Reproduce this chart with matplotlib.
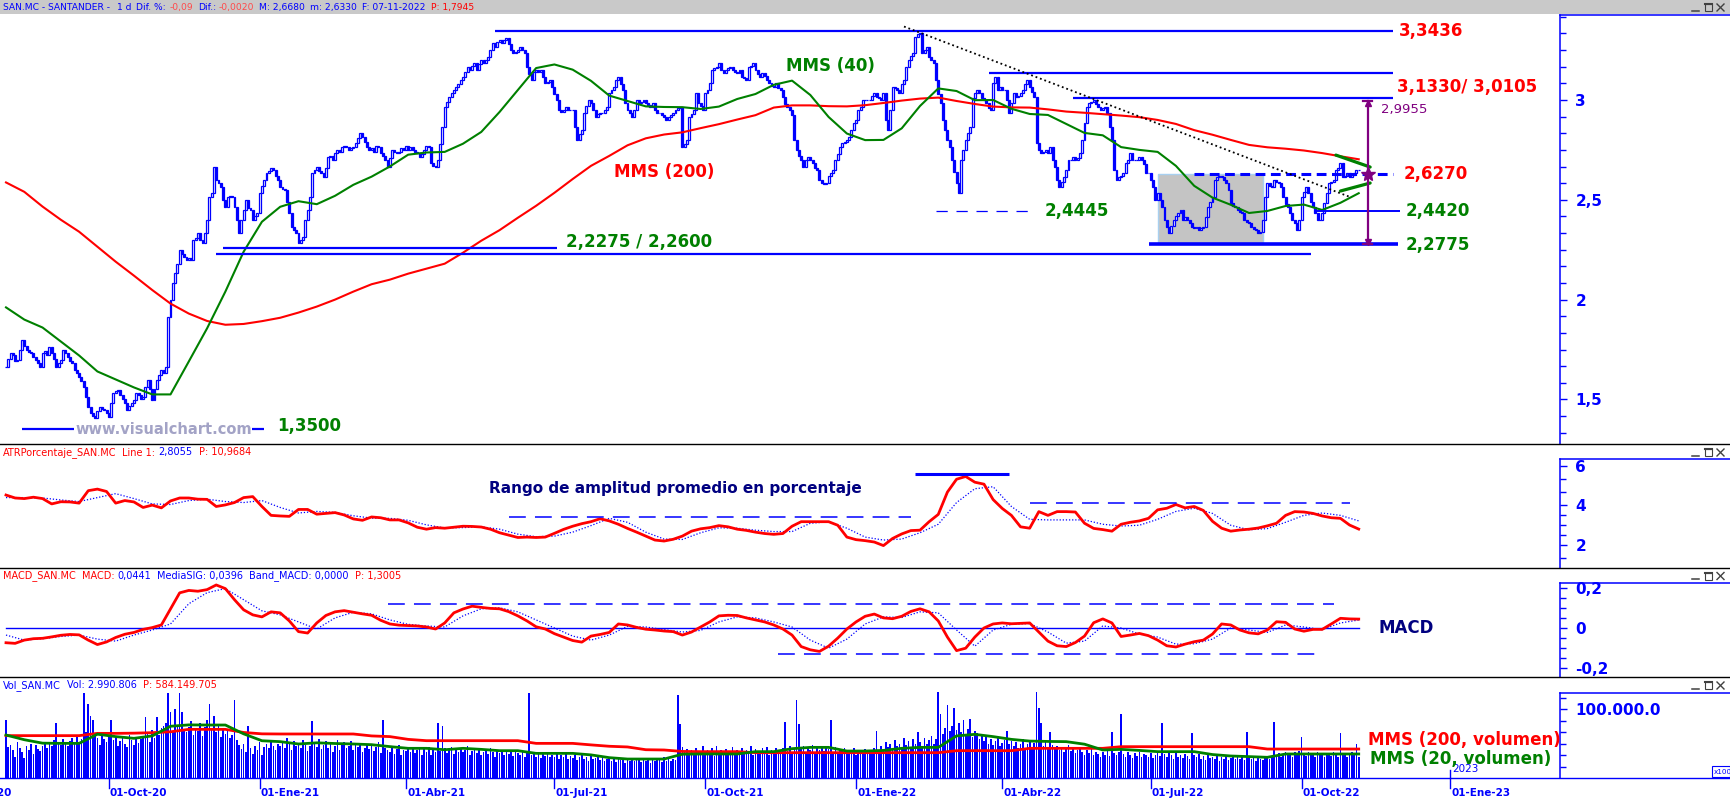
import numpy as np
import pandas as pd
import matplotlib
matplotlib.use("Agg")
import matplotlib.pyplot as plt
from matplotlib.patches import Rectangle
from matplotlib.ticker import FixedLocator, FuncFormatter

plt.rcParams["font.family"] = ["DejaVu Sans"]

# ------------------------------------------------------------------ data
FIRST_SESSION = "2020-07-30"

# daily closes, SAN.MC
close_2020 = [
    1.664, 1.70, 1.731, 1.72, 1.69, 1.697, 1.75, 1.798, 1.77, 1.748,
    1.735, 1.731, 1.71, 1.697, 1.68, 1.664, 1.731, 1.745, 1.72, 1.764,
    1.731, 1.70, 1.664, 1.68, 1.697, 1.748, 1.73, 1.714, 1.69, 1.681,
    1.647, 1.63, 1.614, 1.59, 1.564, 1.514, 1.464, 1.430, 1.415, 1.405,
    1.44, 1.464, 1.45, 1.447, 1.43, 1.414, 1.48, 1.530, 1.54, 1.547,
    1.52, 1.50, 1.480, 1.447, 1.465, 1.48, 1.497, 1.530, 1.52, 1.50,
    1.514, 1.56, 1.597, 1.55, 1.497, 1.55, 1.597, 1.62, 1.647, 1.631,
    1.664, 1.915, 2.00, 2.082, 2.132, 2.18, 2.249, 2.23, 2.215, 2.20,
    2.21, 2.198, 2.299, 2.31, 2.332, 2.30, 2.282, 2.332, 2.399, 2.516,
    2.532, 2.666, 2.60, 2.583, 2.566, 2.50, 2.466, 2.516, 2.52, 2.516,
    2.466, 2.40, 2.332, 2.399, 2.45, 2.499, 2.46, 2.449, 2.399, 2.42,
    2.432,
]
close_2021 = [
    2.532, 2.57, 2.599, 2.633, 2.645, 2.658, 2.649, 2.62, 2.599,
    2.566, 2.555, 2.549, 2.49, 2.432, 2.365, 2.35, 2.332, 2.282, 2.30,
    2.315, 2.399, 2.45, 2.516, 2.633, 2.65, 2.666, 2.645, 2.633, 2.616,
    2.66, 2.716, 2.72, 2.70, 2.733, 2.75, 2.74, 2.766, 2.77, 2.766,
    2.75, 2.76, 2.766, 2.783, 2.81, 2.833, 2.816, 2.79, 2.766, 2.750,
    2.76, 2.74, 2.77, 2.766, 2.733, 2.72, 2.699, 2.666, 2.71, 2.750,
    2.74, 2.733, 2.74, 2.76, 2.750, 2.77, 2.75, 2.766, 2.750, 2.74,
    2.733, 2.716, 2.73, 2.75, 2.77, 2.766, 2.683, 2.67, 2.666, 2.699,
    2.78, 2.866, 2.967, 2.99, 3.017, 3.033, 3.05, 3.067, 3.08, 3.100,
    3.117, 3.14, 3.167, 3.150, 3.17, 3.184, 3.150, 3.18, 3.200, 3.184,
    3.20, 3.217, 3.25, 3.284, 3.267, 3.29, 3.301, 3.284, 3.30, 3.309,
    3.28, 3.250, 3.234, 3.24, 3.250, 3.267, 3.25, 3.234, 3.167, 3.13,
    3.100, 3.14, 3.150, 3.140, 3.150, 3.117, 3.083, 3.09, 3.100, 3.067,
    3.03, 3.000, 2.95, 2.940, 2.950, 2.967, 2.95, 2.950, 2.950, 2.866,
    2.800, 2.83, 2.850, 2.933, 2.97, 3.000, 2.983, 2.950, 2.917, 2.93,
    2.933, 2.933, 2.95, 2.967, 3.033, 3.05, 3.067, 3.100, 3.117, 3.08,
    3.050, 2.983, 2.95, 2.933, 2.917, 2.95, 3.000, 2.983, 2.99, 3.000,
    2.983, 2.975, 2.967, 2.983, 2.95, 2.933, 2.933, 2.925, 2.917, 2.900,
    2.917, 2.925, 2.933, 2.950, 2.96, 2.967, 2.766, 2.78, 2.800, 2.917,
    2.93, 2.950, 3.033, 2.983, 2.97, 2.950, 3.033, 3.05, 3.083, 3.150,
    3.16, 3.167, 3.184, 3.15, 3.134, 3.150, 3.16, 3.167, 3.150, 3.14,
    3.134, 3.150, 3.117, 3.11, 3.100, 3.167, 3.17, 3.184, 3.150, 3.13,
    3.117, 3.134, 3.12, 3.100, 3.083, 3.07, 3.067, 3.083, 3.06, 3.050,
    3.017, 2.98, 2.967, 2.950, 2.925, 2.800, 2.750, 2.72, 2.699, 2.666,
    2.699, 2.716, 2.70, 2.683, 2.66, 2.649, 2.599, 2.583, 2.58, 2.583,
    2.62, 2.633, 2.649, 2.699, 2.73, 2.766, 2.783, 2.79, 2.800, 2.816,
    2.85, 2.883,
]
close_2022 = [
    2.900, 2.95, 2.967, 3.000, 3.000, 3.00, 3.000, 3.02,
    3.033, 3.017, 3.010, 3.000, 3.033, 2.900, 2.850, 2.950, 3.067, 3.06,
    3.050, 3.033, 3.08, 3.100, 3.167, 3.200, 3.22, 3.234, 3.317, 3.33,
    3.334, 3.234, 3.25, 3.267, 3.217, 3.20, 3.184, 3.100, 3.03, 2.983,
    2.900, 2.85, 2.800, 2.766, 2.699, 2.64, 2.583, 2.532, 2.699, 2.75,
    2.80, 2.833, 2.866, 3.01, 3.033, 3.05, 3.033, 3.01, 3.000, 2.983,
    2.96, 2.950, 3.083, 3.117, 3.050, 3.067, 3.05, 3.050, 3.000, 2.933,
    2.983, 3.033, 3.017, 3.02, 3.033, 3.050, 3.08, 3.100, 3.067, 3.04,
    3.017, 2.783, 2.750, 2.733, 2.740, 2.750, 2.733, 2.766, 2.70, 2.666,
    2.599, 2.566, 2.59, 2.616, 2.649, 2.699, 2.70, 2.716, 2.699, 2.71,
    2.733, 2.800, 2.883, 2.967, 2.983, 2.99, 3.000, 2.98, 2.967, 2.950,
    2.96, 2.967, 2.933, 2.866, 2.800, 2.649, 2.599, 2.616, 2.62, 2.633,
    2.683, 2.70, 2.733, 2.699, 2.699, 2.70, 2.716, 2.699, 2.68, 2.633,
    2.633, 2.60, 2.566, 2.499, 2.532, 2.50, 2.466, 2.399, 2.365, 2.332,
    2.37, 2.399, 2.42, 2.432, 2.449, 2.399, 2.416, 2.40, 2.382, 2.365,
    2.36, 2.365, 2.349, 2.36, 2.365, 2.416, 2.466, 2.49, 2.516, 2.599,
    2.616, 2.62, 2.616, 2.60, 2.583, 2.549, 2.482, 2.47, 2.466, 2.449,
    2.44, 2.432, 2.399, 2.39, 2.382, 2.365, 2.355, 2.349, 2.332, 2.340,
    2.399, 2.516, 2.583, 2.57, 2.566, 2.599, 2.59, 2.583, 2.566, 2.516,
    2.48, 2.466, 2.432, 2.40, 2.382, 2.349, 2.399, 2.516, 2.54, 2.566,
    2.532, 2.49, 2.466, 2.432, 2.40, 2.399, 2.432, 2.482, 2.532, 2.583,
    2.59, 2.599, 2.649, 2.66, 2.683, 2.616, 2.62, 2.633, 2.616, 2.625,
    2.633, 2.651, 2.649,
]

# moving averages of price, one value every MA_STEP sessions
MA_STEP = 8
mms40 = [
    1.961, 1.90, 1.86, 1.79, 1.72, 1.64, 1.60, 1.56, 1.525, 1.525,
    1.69, 1.856, 2.04, 2.24, 2.39, 2.465, 2.493, 2.478, 2.52, 2.575,
    2.616, 2.667, 2.726, 2.737, 2.74, 2.781, 2.84, 2.94, 3.05, 3.16,
    3.178, 3.152, 3.096, 3.022, 2.995, 2.968, 2.965, 2.964, 2.955, 2.967,
    3.005, 3.03, 3.076, 3.097, 3.025, 2.915, 2.832, 2.799, 2.80, 2.858,
    2.97, 3.058, 3.045, 2.999, 3.000, 2.956, 2.93, 2.925, 2.88, 2.835,
    2.823, 2.764, 2.750, 2.74, 2.67, 2.57, 2.511, 2.475, 2.434, 2.444,
    2.469, 2.476, 2.449, 2.485, 2.533,
]
mms200 = [
    2.587, 2.54, 2.466, 2.40, 2.34, 2.265, 2.19, 2.12, 2.048, 1.98,
    1.93, 1.893, 1.874, 1.878, 1.892, 1.909, 1.935, 1.965, 2.00, 2.04,
    2.077, 2.10, 2.13, 2.155, 2.18, 2.235, 2.295, 2.348, 2.41, 2.47,
    2.535, 2.604, 2.67, 2.72, 2.773, 2.808, 2.827, 2.838, 2.859, 2.879,
    2.902, 2.924, 2.962, 2.973, 2.973, 2.969, 2.968, 2.974, 2.985, 2.997,
    3.007, 3.012, 2.995, 2.98, 2.967, 2.963, 2.962, 2.953, 2.942, 2.936,
    2.929, 2.922, 2.914, 2.90, 2.88, 2.849, 2.826, 2.80, 2.775, 2.763,
    2.756, 2.747, 2.734, 2.718, 2.703,
]

# ATR in percent (every OSC_STEP sessions) and its average (every MA_STEP)
OSC_STEP = 4
atr_pct = [
    4.53, 4.38, 4.35, 4.42, 4.35, 4.08, 4.19, 4.18, 4.12, 4.75,
    4.83, 4.71, 4.12, 4.25, 4.18, 3.90, 4.02, 3.88, 4.23, 4.38,
    4.38, 4.32, 4.31, 3.95, 4.03, 4.15, 4.40, 4.45, 3.95, 3.50,
    3.47, 3.45, 3.80, 3.80, 3.56, 3.60, 3.64, 3.52, 3.32, 3.25,
    3.42, 3.38, 3.27, 3.27, 3.12, 2.90, 2.80, 2.88, 2.85, 2.90,
    2.95, 2.94, 2.91, 2.80, 2.62, 2.50, 2.38, 2.40, 2.38, 2.40,
    2.59, 2.79, 2.95, 3.08, 3.18, 3.33, 3.22, 3.05, 2.84, 2.65,
    2.45, 2.25, 2.20, 2.29, 2.45, 2.70, 2.82, 2.88, 2.98, 2.92,
    2.80, 2.74, 2.65, 2.58, 2.54, 2.58, 2.95, 3.18, 3.18, 3.18,
    3.18, 3.00, 2.40, 2.27, 2.22, 2.15, 1.97, 2.33, 2.56, 2.73,
    2.75, 3.18, 3.55, 4.68, 5.33, 5.47, 5.18, 5.08, 4.30, 3.85,
    3.50, 2.92, 2.85, 3.69, 3.50, 3.69, 3.69, 3.67, 3.10, 2.84,
    2.78, 2.70, 3.05, 3.15, 3.22, 3.35, 3.78, 3.86, 4.05, 3.88,
    3.95, 3.75, 3.20, 2.85, 2.70, 2.76, 2.80, 2.86, 2.97, 3.10,
    3.50, 3.69, 3.67, 3.60, 3.47, 3.38, 3.35, 3.01, 2.8055,
]
atr_avg = [
    4.40, 4.40, 4.38, 4.28, 4.20, 4.40, 4.60, 4.35, 4.08, 4.05,
    4.25, 4.32, 4.20, 4.15, 4.25, 3.90, 3.62, 3.70, 3.65, 3.48,
    3.36, 3.35, 3.25, 3.02, 2.86, 2.88, 2.92, 2.80, 2.55, 2.42,
    2.45, 2.65, 2.98, 3.35, 3.15, 2.65, 2.30, 2.28, 2.62, 2.87,
    2.85, 2.75, 2.68, 2.68, 3.10, 3.17, 2.85, 2.40, 2.25, 2.30,
    2.62, 3.05, 4.15, 4.85, 4.95, 3.95, 3.30, 3.27, 3.27, 3.27,
    3.05, 2.96, 3.00, 3.30, 3.70, 3.86, 3.60, 3.00, 2.77, 2.83,
    3.15, 3.50, 3.62, 3.50, 3.22,
]

# MACD (every OSC_STEP sessions) and signal line (every MA_STEP)
macd_line = [
    -0.073, -0.076, -0.060, -0.053, -0.051, -0.044, -0.036, -0.032, -0.034, -0.060,
    -0.082, -0.069, -0.047, -0.031, -0.022, -0.007, 0.002, 0.015, 0.095, 0.174,
    0.186, 0.182, 0.190, 0.213, 0.195, 0.140, 0.090, 0.065, 0.055, 0.080,
    0.075, 0.035, -0.018, -0.025, 0.025, 0.062, 0.080, 0.086, 0.078, 0.070,
    0.063, 0.038, 0.020, 0.014, 0.012, 0.010, 0.005, -0.005, 0.025, 0.075,
    0.094, 0.108, 0.102, 0.097, 0.095, 0.081, 0.060, 0.035, 0.006, -0.005,
    -0.028, -0.045, -0.062, -0.070, -0.040, -0.032, -0.022, 0.020, 0.015, 0.003,
    -0.006, -0.010, -0.015, -0.018, -0.035, -0.020, 0.005, 0.030, 0.060, 0.063,
    0.062, 0.050, 0.040, 0.030, 0.015, -0.005, -0.035, -0.092, -0.108, -0.116,
    -0.090, -0.050, -0.005, 0.030, 0.058, 0.069, 0.050, 0.046, 0.058, 0.082,
    0.095, 0.080, 0.035, -0.045, -0.112, -0.100, -0.045, 0.000, 0.020, 0.025,
    0.021, 0.023, 0.025, -0.020, -0.065, -0.088, -0.092, -0.072, -0.040, 0.026,
    0.045, 0.025, -0.042, -0.035, -0.027, -0.038, -0.060, -0.088, -0.094, -0.080,
    -0.068, -0.060, -0.030, 0.020, 0.015, -0.010, -0.024, -0.029, -0.010, 0.031,
    0.028, -0.005, -0.016, -0.007, -0.007, 0.020, 0.048, 0.045, 0.0441,
]
macd_signal = [
    -0.035, -0.060, -0.053, -0.042, -0.035, -0.055, -0.065, -0.035, -0.010, 0.020,
    0.120, 0.175, 0.195, 0.140, 0.085, 0.065, 0.030, -0.005, 0.050, 0.078,
    0.070, 0.040, 0.018, 0.010, 0.005, 0.060, 0.095, 0.100, 0.080, 0.040,
    0.000, -0.040, -0.060, -0.035, 0.008, 0.005, -0.008, -0.020, -0.012, 0.030,
    0.055, 0.050, 0.030, 0.005, -0.060, -0.100, -0.055, 0.020, 0.055, 0.052,
    0.080, 0.075, -0.010, -0.090, -0.010, 0.018, 0.022, -0.020, -0.075, -0.065,
    0.010, 0.000, -0.030, -0.045, -0.080, -0.078, -0.055, 0.000, -0.010, -0.022,
    0.015, 0.005, -0.008, 0.025, 0.0396,
]

# daily volume, in units of the panel scale (100 = 100.000.0)
vol_2020 = [
    84, 45, 48, 40, 30, 52, 44, 38, 29, 46, 41, 50, 35, 48, 42, 39, 47, 51, 44, 49,
    46, 55, 79, 52, 48, 56, 50, 47, 54, 58, 51, 60, 49, 57, 123, 66, 107, 90, 84, 62,
    58, 48, 64, 57, 52, 60, 84, 55, 61, 47, 53, 59, 50, 45, 62, 55, 48, 58, 51, 57,
    60, 88, 66, 52, 70, 58, 88, 63, 72, 75, 80, 123, 95, 68, 100, 77, 123, 95, 70, 66,
    74, 82, 63, 71, 68, 79, 61, 74, 84, 107, 72, 90, 66, 78, 60, 71, 64, 69, 58, 62,
    113, 55, 48, 42, 50, 38, 75, 44, 35, 47, 40,
]
vol_2021 = [
    52, 33, 45, 49, 43, 55, 47, 41, 50,
    46, 52, 44, 58, 49, 41, 53, 46, 50, 43, 55, 48, 39, 47, 82, 51, 45, 56, 42, 48,
    53, 44, 50, 38, 47, 55, 41, 49, 52, 43, 46, 54, 40, 48, 45, 51, 37, 44, 50, 42,
    47, 39, 45, 52, 36, 84, 44, 40, 38, 46, 35, 42, 48, 33, 41, 39, 45, 37, 43, 36,
    40, 44, 34, 42, 38, 45, 33, 41, 37, 80, 39, 75, 43, 36, 40, 45, 35, 42, 38, 44,
    37, 41, 46, 34, 39, 43, 36, 40, 33, 38, 42, 35, 44, 37, 31, 40, 36, 39, 34, 41,
    35, 38, 32, 40, 36, 33, 39, 30, 37, 123, 34, 38, 31, 36, 29, 35, 32, 37, 30, 34,
    31, 36, 28, 33, 30, 35, 27, 32, 29, 34, 26, 31, 33, 28, 30, 25, 32, 27, 29, 31,
    26, 29, 24, 28, 31, 25, 27, 23, 30, 26, 28, 22, 27, 25, 29, 24, 26, 28, 23, 27,
    25, 29, 22, 27, 24, 28, 26, 23, 30, 25, 27, 24, 28, 26, 120, 78, 45, 38, 42, 35,
    40, 36, 44, 33, 39, 47, 35, 41, 38, 43, 32, 46, 37, 40, 34, 42, 39, 36, 45, 33,
    41, 38, 44, 35, 40, 37, 46, 34, 42, 39, 36, 43, 38, 45, 33, 41, 37, 44, 40, 36,
    43, 81, 39, 46, 38, 44, 113, 78, 42, 47, 37, 45, 40, 48, 36, 43, 41, 46, 39, 44,
    42, 84, 38, 45, 36, 41, 39, 44, 35, 40, 37, 43,
]
vol_2022 = [
    34, 41, 38, 36, 42, 35, 40, 38,
    44, 68, 41, 47, 39, 52, 45, 49, 42, 55, 46, 50, 43, 58, 48, 53, 45, 56, 49, 67,
    52, 47, 58, 50, 55, 61, 49, 57, 125, 93, 64, 72, 106, 68, 75, 101, 70, 80, 66, 84,
    63, 71, 86, 60, 68, 65, 57, 62, 54, 59, 50, 56, 48, 53, 58, 46, 51, 55, 68, 49,
    54, 47, 52, 44, 50, 56, 43, 49, 53, 45, 51, 125, 101, 79, 47, 52, 44, 67, 48, 42,
    46, 40, 44, 37, 42, 48, 39, 43, 36, 41, 45, 38, 34, 40, 36, 42, 33, 38, 35, 31,
    37, 34, 39, 32, 67, 36, 33, 38, 93, 35, 31, 37, 34, 29, 36, 32, 38, 30, 35, 33,
    31, 36, 29, 34, 38, 32, 79, 35, 30, 37, 33, 28, 36, 31, 34, 29, 35, 32, 27, 65,
    33, 30, 35, 28, 32, 26, 34, 29, 31, 27, 33, 25, 30, 28, 32, 26, 29, 31, 27, 30,
    28, 32, 26, 67, 29, 27, 31, 25, 30, 28, 26, 32, 29, 27, 30, 81, 33, 36, 31, 35,
    38, 33, 36, 30, 37, 34, 39, 60, 35, 32, 38, 34, 36, 31, 37, 33, 35, 30, 36, 34,
    32, 37, 35, 31, 65, 33, 36, 30, 35, 37, 34, 50, 29.91,
]
vol_mms200 = [
    61.4, 61.4, 61.4, 61.4, 61.4, 64.7, 64.7, 65.0, 65.7, 67.0,
    70.5, 70.5, 70.5, 66.0, 64.0, 63.8, 63.8, 63.8, 63.8, 63.8,
    61.0, 60.0, 56.0, 54.1, 54.1, 54.1, 54.1, 54.1, 54.1, 50.2,
    50.2, 50.2, 48.0, 46.0, 45.0, 41.0, 40.6, 38.5, 38.2, 38.2,
    38.2, 36.7, 36.7, 36.7, 36.7, 36.7, 36.7, 36.7, 36.7, 36.7,
    36.7, 36.7, 39.6, 39.6, 39.6, 39.6, 43.0, 43.0, 43.0, 43.0,
    43.0, 45.4, 45.4, 45.4, 45.4, 45.4, 45.4, 45.4, 45.4, 42.0,
    42.0, 42.0, 42.0, 42.0, 42.0,
]
vol_mms20 = [
    62.3, 55.5, 50.5, 50.2, 50.2, 63.5, 60.0, 57.5, 61.0, 75.0,
    77.0, 76.8, 76.8, 64.0, 54.0, 52.7, 49.3, 51.0, 50.0, 49.3,
    48.3, 45.5, 43.0, 43.0, 41.0, 43.0, 41.5, 39.6, 39.6, 35.7,
    35.7, 35.7, 33.5, 29.5, 27.5, 27.5, 27.5, 34.5, 34.8, 34.8,
    34.8, 38.2, 38.2, 42.5, 44.4, 44.4, 39.1, 39.1, 40.0, 43.0,
    44.4, 44.4, 61.0, 63.3, 60.0, 56.0, 53.5, 53.0, 52.7, 49.0,
    40.6, 41.5, 40.0, 38.2, 38.2, 38.2, 34.0, 31.9, 31.0, 30.0,
    34.8, 34.8, 34.8, 34.8, 34.8,
]

# chart studies: price levels, trend lines and zones
level_max = 3.3436
level_res = [3.1330, 3.0105]
level_pivot = 2.6270
level_sup = 2.4420
level_base = 2.2775
level_2021 = [2.2275, 2.2600]
level_low22 = 2.4445
level_low20 = 1.3500
target = 2.9955
trend_line = [("2022-02-01", 3.368), ("2022-11-01", 2.515)]
wedge_upper = [("2022-10-24", 2.724), ("2022-11-14", 2.664)]
wedge_lower = [("2022-10-26", 2.544), ("2022-11-14", 2.584)]
range_zone = ["2022-07-06", "2022-09-08"]
atr_peak_level = 5.61
atr_bands = [3.42, 4.14]
macd_bands = [0.119, -0.130]

# ------------------------------------------------------------------ layout
W, H, DPI = 1730, 799, 100
BLUE = "#0000ff"
RED = "#ff0000"
LRED = "#ff4a4a"
GREEN = "#008000"
NAVY = "#000080"
PURPLE = "#800080"

cal = pd.bdate_range("2020-06-01", "2023-03-31")
t0 = cal.searchsorted(pd.Timestamp(FIRST_SESSION))


def pos(d):
    return float(cal.searchsorted(pd.Timestamp(d)) - t0)


fig = plt.figure(figsize=(W / DPI, H / DPI), dpi=DPI, facecolor="white")


def px_axes(x0, y0, x1, y1):
    return fig.add_axes([x0 / W, 1 - y1 / H, (x1 - x0) / W, (y1 - y0) / H])


PLOT_R = 1560
BAR_PX, FIRST_PX = 2.285, 6.0
XLIM = (-FIRST_PX / BAR_PX, (PLOT_R - FIRST_PX) / BAR_PX)

ax_p = px_axes(0, 15, PLOT_R, 444)
ax_a = px_axes(0, 444, PLOT_R, 568)
ax_m = px_axes(0, 568, PLOT_R, 677)
ax_v = px_axes(0, 677, PLOT_R, 778)


def comma(v, _=None):
    s = ("%g" % round(v, 4)).replace(".", ",")
    return "0" if s in ("-0", "0") else s


def style_axis(ax, ylim, spine_top, major, minor, fmt):
    ax.set_xlim(*XLIM)
    ax.set_ylim(*ylim)
    ax.set_facecolor("none")
    for s in ("left", "top", "bottom"):
        ax.spines[s].set_visible(False)
    sp = ax.spines["right"]
    sp.set_color(BLUE)
    sp.set_linewidth(1.1)
    sp.set_bounds(ylim[0], spine_top)
    ax.set_xticks([])
    ax.yaxis.tick_right()
    ax.yaxis.set_major_locator(FixedLocator(major))
    ax.yaxis.set_minor_locator(FixedLocator(minor))
    ax.yaxis.set_major_formatter(FuncFormatter(fmt))
    ax.tick_params(axis="y", which="both", direction="out", color=BLUE,
                   labelcolor=BLUE, width=1.0, pad=6, labelsize=11)
    ax.tick_params(axis="y", which="major", length=5)
    ax.tick_params(axis="y", which="minor", length=4)
    for t in ax.get_yticklabels():
        t.set_fontweight("bold")


style_axis(ax_p, (1.2766, 3.4258), 3.4258, [1.5, 2, 2.5, 3],
           [k / 12 for k in range(16, 42) if k % 6], comma)
style_axis(ax_a, (0.835, 7.114), 6.354, [2, 4, 6],
           [1.333, 2.5, 3.0, 3.5, 4.667, 5.333], comma)
style_axis(ax_m, (-0.2426, 0.297), 0.2228, [-0.2, 0, 0.2],
           [-0.15, -0.1, -0.05, 0.05, 0.1, 0.15], comma)
style_axis(ax_v, (0, 146.4), 123.2, [100],
           [100 / 6 * k for k in (1, 2, 3, 4, 5, 7)], lambda v, _: "100.000.0")

# ------------------------------------------------------------------ price panel
close = np.array(close_2020 + close_2021 + close_2022, dtype=float)
n = len(close)
xb = np.arange(n)
opens = np.r_[close[0], close[:-1]]
face = np.where(close >= opens, "white", BLUE)
ax_p.bar(xb, np.abs(close - opens), bottom=np.minimum(opens, close), width=0.85,
         color=face, edgecolor=BLUE, linewidth=0.9, zorder=3)

xm = np.arange(len(mms200)) * MA_STEP
ax_p.plot(xm, mms200, color=RED, lw=1.5, zorder=4)
ax_p.plot(np.arange(len(mms40)) * MA_STEP, mms40, color=GREEN, lw=1.5, zorder=4)

# consolidation zone
z0, z1 = pos(range_zone[0]), pos(range_zone[1])
ax_p.add_patch(Rectangle((z0, level_base), z1 - z0, level_pivot - level_base,
                         facecolor="#c4c4c4", edgecolor="#a8d0f0", lw=1.0, zorder=1))


def hline(ax, y, d0, d1, **kw):
    ax.plot([pos(d0), pos(d1)], [y, y], solid_capstyle="butt", **kw)


hline(ax_p, level_max, "2021-05-26", "2022-11-28", color=BLUE, lw=1.6, zorder=5)
hline(ax_p, level_res[0], "2022-03-24", "2022-11-28", color=BLUE, lw=1.6, zorder=5)
hline(ax_p, level_res[1], "2022-05-16", "2022-11-28", color=BLUE, lw=1.6, zorder=5)
hline(ax_p, level_pivot, "2022-07-28", "2022-11-28", color=BLUE, lw=2.2,
      ls=(0, (3.2, 1.8)), zorder=5)
hline(ax_p, level_sup, "2022-10-11", "2022-12-01", color=BLUE, lw=1.4, zorder=5)
hline(ax_p, level_base, "2022-06-30", "2022-11-30", color=BLUE, lw=2.6, zorder=5)
hline(ax_p, level_2021[1], "2020-12-10", "2021-07-02", color=BLUE, lw=1.6, zorder=5)
hline(ax_p, level_2021[0], "2020-12-07", "2022-10-07", color=BLUE, lw=1.6, zorder=5)
hline(ax_p, level_low22, "2022-02-21", "2022-04-21", color=BLUE, lw=0.9,
      ls=(0, (9, 7)), zorder=5)
hline(ax_p, level_low20, "2020-08-10", "2021-01-05", color=BLUE, lw=1.6, zorder=5)

ax_p.plot([pos(d) for d, _ in trend_line], [v for _, v in trend_line],
          color="black", lw=1.3, ls=(0, (1.0, 1.6)), zorder=6)
for seg in (wedge_upper, wedge_lower):
    ax_p.plot([pos(d) for d, _ in seg], [v for _, v in seg],
              color=GREEN, lw=2.3, solid_capstyle="round", zorder=6)

# measured move
xa = pos("2022-11-11")
ax_p.plot([xa, xa], [level_base, target], color=PURPLE, lw=1.6, zorder=7)
for yv in (level_base, target):
    ax_p.plot([xa - 2.0, xa + 2.0], [yv, yv], color=PURPLE, lw=1.6, zorder=7)
ax_p.plot([xa], [target - 0.013], marker="^", ms=5, color=PURPLE, zorder=7)
ax_p.plot([xa], [level_base + 0.013], marker="v", ms=5, color=PURPLE, zorder=7)
ax_p.plot([xa], [level_pivot], marker="*", ms=10, color=PURPLE, zorder=8)

# ------------------------------------------------------------------ ATR panel
ax_a.plot(np.arange(len(atr_avg)) * MA_STEP, atr_avg, color=BLUE, lw=0.9,
          ls=(0, (1, 1.5)), zorder=3)
ax_a.plot(np.arange(len(atr_pct)) * OSC_STEP, atr_pct, color=RED, lw=2.0, zorder=4)
hline(ax_a, atr_peak_level, "2022-02-08", "2022-04-06", color=BLUE, lw=2.2, zorder=5)
hline(ax_a, atr_bands[0], "2021-06-03", "2022-02-04", color=BLUE, lw=1.1,
      ls=(0, (11, 6)), zorder=5)
hline(ax_a, atr_bands[1], "2022-04-19", "2022-11-01", color=BLUE, lw=1.1,
      ls=(0, (11, 6)), zorder=5)

# ------------------------------------------------------------------ MACD panel
ax_m.plot([0, n - 1], [0, 0], color=BLUE, lw=1.0, zorder=2)
ax_m.plot(np.arange(len(macd_signal)) * MA_STEP, macd_signal, color=BLUE, lw=0.9,
          ls=(0, (1, 1.5)), zorder=3)
ax_m.plot(np.arange(len(macd_line)) * OSC_STEP, macd_line, color=RED, lw=2.0, zorder=4)
hline(ax_m, macd_bands[0], "2021-03-22", "2022-10-21", color=BLUE, lw=1.1,
      ls=(0, (11, 6)), zorder=5)
hline(ax_m, macd_bands[1], "2021-11-16", "2022-10-13", color=BLUE, lw=1.1,
      ls=(0, (11, 6)), zorder=5)

# ------------------------------------------------------------------ volume panel
volume = np.array(vol_2020 + vol_2021 + vol_2022, dtype=float)
ax_v.bar(np.arange(len(volume)), volume, width=0.72, color=BLUE, linewidth=0, zorder=2)
ax_v.plot(np.arange(len(vol_mms200)) * MA_STEP, vol_mms200, color=RED, lw=2.0, zorder=4)
ax_v.plot(np.arange(len(vol_mms20)) * MA_STEP, vol_mms20, color=GREEN, lw=2.0, zorder=4)

# date axis under the volume panel
MONTHS = {1: "Ene", 4: "Abr", 7: "Jul", 10: "Oct"}
xt = ax_v.get_xaxis_transform()
for d in pd.date_range("2020-07-01", "2023-01-01", freq="QS"):
    p = pos(d)
    label = "01-%s-%s" % (MONTHS[d.month], d.strftime("%y"))
    if XLIM[0] <= p <= XLIM[1]:
        top = 0.08 if d.month == 1 and d.year == 2023 else 0.0
        ax_v.plot([p, p], [top, -0.10], color=BLUE, lw=1.0, transform=xt, clip_on=False)
    ax_v.text(p + 0.5, -0.15, label, transform=xt, ha="left", va="center",
              color=BLUE, fontsize=7.5, fontweight="bold", clip_on=False)
p23 = pos("2023-01-01")
ax_v.text(p23 + 0.9, 0.085, "2023", transform=xt, ha="left", va="center",
          color=BLUE, fontsize=7.5, clip_on=False)

# ------------------------------------------------------------------ overlay (pixel space)
ov = fig.add_axes([0, 0, 1, 1], zorder=10)
ov.set_xlim(0, W)
ov.set_ylim(H, 0)
ov.axis("off")
ov.patch.set_visible(False)

ov.add_patch(Rectangle((0, 0), W, 14, facecolor="#c9c9c9", edgecolor="none"))
for yy in (444, 568, 677):
    ov.plot([0, W], [yy, yy], color="black", lw=1.0)
for yy in (15, 459, 583, 693):
    ov.plot([PLOT_R, W], [yy, yy], color=BLUE, lw=1.1)
ov.plot([0, W], [778, 778], color=BLUE, lw=1.0)


def window_buttons(yc):
    c = "#404040"
    ov.plot([1692, 1699], [yc + 3, yc + 3], color=c, lw=1.1)
    ov.add_patch(Rectangle((1705, yc - 3.5), 7, 7, fill=False, ec=c, lw=0.8))
    ov.plot([1705, 1712], [yc - 3.3, yc - 3.3], color=c, lw=1.5)
    ov.plot([1717, 1724], [yc - 3.5, yc + 3.5], color=c, lw=1.0)
    ov.plot([1717, 1724], [yc + 3.5, yc - 3.5], color=c, lw=1.0)


for yc in (7.5, 452.5, 576, 685.5):
    window_buttons(yc)

renderer = fig.canvas.get_renderer()


def colored_line(x, y, parts, size=7):
    for txt, col, gap in parts:
        t = ov.text(x, y, txt, color=col, fontsize=size, ha="left", va="center")
        x += t.get_window_extent(renderer).width + gap


colored_line(3, 7.5, [
    ("SAN.MC - SANTANDER -", BLUE, 7), ("1 d", BLUE, 5), ("Dif. %:", BLUE, 3),
    ("-0,09", LRED, 5), ("Dif.:", BLUE, 3), ("-0,0020", LRED, 5),
    ("M: 2,6680", BLUE, 5), ("m: 2,6330", BLUE, 5), ("F: 07-11-2022", BLUE, 5),
    ("P: 1,7945", RED, 0)], size=6.6)
colored_line(3, 452.5, [
    ("ATRPorcentaje_SAN.MC", RED, 6), ("Line 1:", RED, 3), ("2,8055", BLUE, 6),
    ("P: 10,9684", RED, 0)])
colored_line(3, 576, [
    ("MACD_SAN.MC", RED, 6), ("MACD:", RED, 3), ("0,0441", BLUE, 6),
    ("MediaSIG: 0,0396", BLUE, 6), ("Band_MACD: 0,0000", BLUE, 6),
    ("P: 1,3005", RED, 0)])
colored_line(3, 685.5, [
    ("Vol_SAN.MC", BLUE, 6), ("Vol: 2.990.806", BLUE, 6), ("P: 584.149.705", RED, 0)])


def level_y(ax, v):
    return H - ax.transData.transform((0, v))[1]


def label(x, y, s, color, size=12, weight="bold", **kw):
    ov.text(x, y, s, color=color, fontsize=size, fontweight=weight,
            ha="left", va="center", **kw)


label(1399, level_y(ax_p, level_max), "3,3436", RED)
label(1397, (level_y(ax_p, level_res[0]) + level_y(ax_p, level_res[1])) / 2 + 1,
      "3,1330/ 3,0105", RED)
label(1381, level_y(ax_p, target) + 9, "2,9955", PURPLE, size=9.5, weight="normal")
label(1404, level_y(ax_p, level_pivot), "2,6270", RED)
label(1406, level_y(ax_p, level_sup), "2,4420", GREEN)
label(1406, level_y(ax_p, level_base) + 1, "2,2775", GREEN)
label(1045, level_y(ax_p, level_low22), "2,4445", GREEN)
label(566, 242, "2,2275 / 2,2600", GREEN)
label(277, level_y(ax_p, level_low20) - 3, "1,3500", GREEN)
label(786, 66, "MMS (40)", GREEN)
label(614, 172, "MMS (200)", RED)
label(75, level_y(ax_p, level_low20), "www.visualchart.com", "#a3a3c6", size=10.5,
      bbox=dict(facecolor="white", edgecolor="none", pad=0.5))

label(489, 488, "Rango de amplitud promedio en porcentaje", NAVY, size=11)
label(1378, 628, "MACD", NAVY)
label(1368, 740, "MMS (200, volumen)", RED)
label(1370, 759, "MMS (20, volumen)", GREEN)

ov.add_patch(Rectangle((1712, 766), 17.5, 11, fill=False, ec=BLUE, lw=0.8))
ov.text(1713.5, 771.5, "x100", fontsize=5.2, color=BLUE, ha="left", va="center")

fig.savefig("out.png", dpi=DPI, facecolor="white")
